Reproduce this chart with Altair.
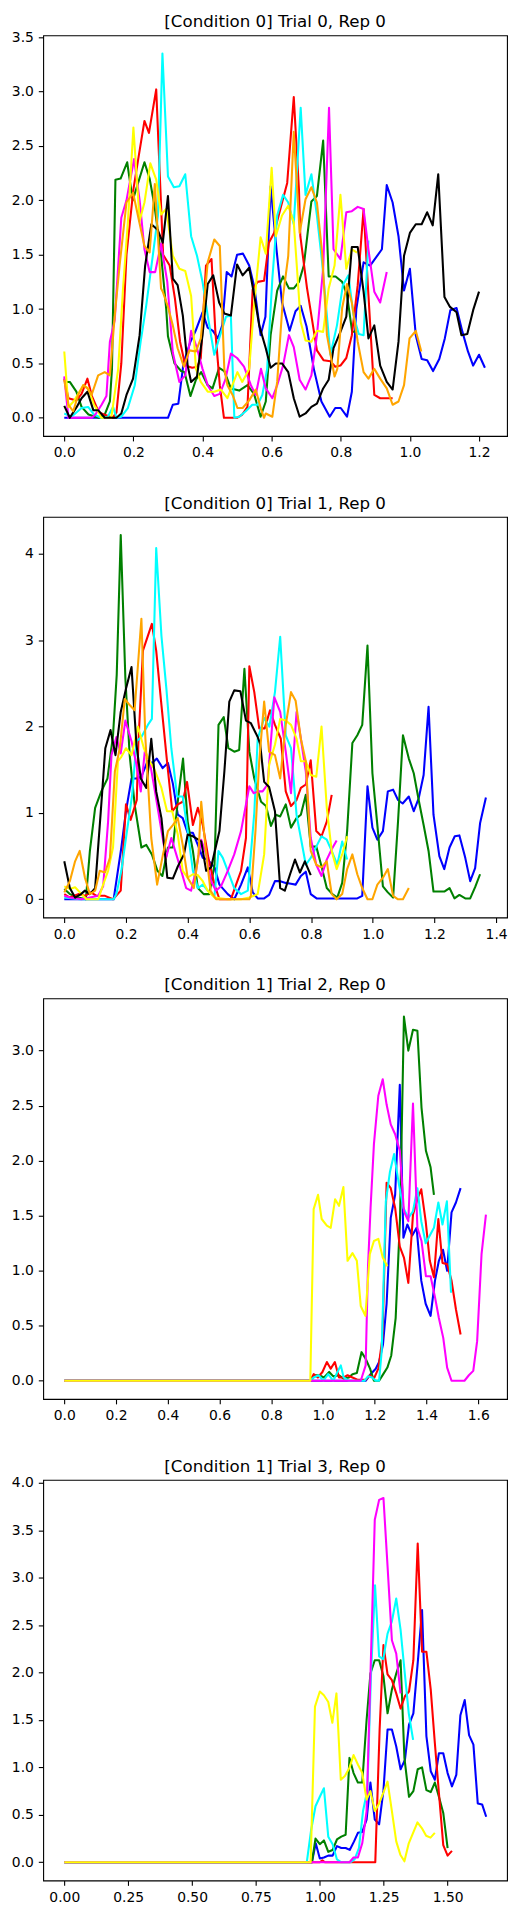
import altair as alt
import pandas as pd

# ---------------- colours (matplotlib named colours) ----------------
COLOR_NAMES = ["blue", "green", "red", "cyan", "magenta", "yellow", "black", "orange"]
COLOR_HEX = ["#0000ff", "#008000", "#ff0000", "#00ffff", "#ff00ff", "#ffff00", "#000000", "#ffa500"]

# ---------------- titles ----------------
TITLES = ["[Condition 0] Trial 0, Rep 0", "[Condition 0] Trial 1, Rep 0",
          "[Condition 1] Trial 2, Rep 0", "[Condition 1] Trial 3, Rep 0"]

# ---------------- tick labels ----------------
P1_XTICKS = [0.0, 0.2, 0.4, 0.6, 0.8, 1.0, 1.2]
P1_YTICKS = [0.0, 0.5, 1.0, 1.5, 2.0, 2.5, 3.0, 3.5]
P2_XTICKS = [0.0, 0.2, 0.4, 0.6, 0.8, 1.0, 1.2, 1.4]
P2_YTICKS = [0, 1, 2, 3, 4]
P3_XTICKS = [0.0, 0.2, 0.4, 0.6, 0.8, 1.0, 1.2, 1.4, 1.6]
P3_YTICKS = [0.0, 0.5, 1.0, 1.5, 2.0, 2.5, 3.0]
P4_XTICKS = [0.0, 0.25, 0.5, 0.75, 1.0, 1.25, 1.5]
P4_YTICKS = [0.0, 0.5, 1.0, 1.5, 2.0, 2.5, 3.0, 3.5, 4.0]

# ---------------- panel 1 : (time, value) ----------------
P1_BLUE = [(0,0),(0.3,0),(0.314,0.12),(0.33,0.13),(0.345,0.5),(0.365,0.7),(0.38,0.8),(0.4,0.97),(0.415,0.83),(0.43,0.8),(0.445,0.73),(0.457,0.85),(0.47,1.34),(0.484,1.3),(0.5,1.5),(0.517,1.51),(0.535,1.4),(0.55,1.2),(0.568,0.76),(0.582,0.93),(0.597,2.13),(0.614,1.55),(0.63,1.06),(0.652,0.8),(0.669,0.98),(0.684,1.03),(0.701,0.84),(0.722,0.45),(0.744,0.15),(0.768,0.01),(0.784,0.09),(0.8,0.09),(0.818,0.01),(0.832,0.24),(0.845,1.0),(0.866,1.43),(0.885,1.4),(0.919,1.55),(0.933,2.14),(0.95,1.98),(0.967,1.67),(0.983,1.17),(1.0,1.37),(1.017,0.76),(1.034,0.54),(1.05,0.53),(1.067,0.43),(1.085,0.54),(1.101,0.73),(1.117,0.99),(1.135,1.01),(1.152,0.79),(1.168,0.61),(1.183,0.48),(1.2,0.58),(1.217,0.46)]
P1_GREEN = [(0,0.33),(0.016,0.33),(0.035,0.24),(0.05,0.1),(0.07,0.03),(0.1,0.0),(0.117,0.03),(0.132,0.15),(0.138,0.45),(0.148,2.19),(0.163,2.2),(0.182,2.35),(0.198,2.0),(0.232,2.35),(0.247,2.2),(0.261,1.95),(0.28,1.5),(0.295,1.0),(0.3,0.75),(0.319,0.5),(0.338,0.43),(0.348,0.42),(0.365,0.2),(0.381,0.35),(0.396,0.42),(0.415,0.3),(0.429,0.27),(0.448,0.46),(0.463,0.43),(0.482,0.27),(0.506,0.25),(0.53,0.3),(0.549,0.22),(0.568,0.01),(0.583,0.15),(0.597,0.76),(0.616,1.17),(0.633,1.3),(0.65,1.19),(0.664,1.19),(0.679,1.25),(0.693,1.4),(0.715,1.99),(0.731,2.04),(0.749,2.55),(0.765,1.3),(0.785,1.3),(0.804,1.25),(0.818,1.13),(0.833,0.79),(0.849,0.8)]
P1_RED = [(0,0.36),(0.012,0.18),(0.035,0.16),(0.05,0.22),(0.067,0.36),(0.08,0.2),(0.1,0.05),(0.14,0.0),(0.151,0.05),(0.165,0.5),(0.18,1.5),(0.2,2.1),(0.215,2.4),(0.232,2.73),(0.245,2.62),(0.266,3.02),(0.286,1.5),(0.305,1.4),(0.32,1.1),(0.335,0.7),(0.35,0.48),(0.37,0.46),(0.385,0.47),(0.395,0.55),(0.41,1.4),(0.426,1.46),(0.437,0.8),(0.45,0.3),(0.462,0.0),(0.5,0.0),(0.515,0.03),(0.53,0.1),(0.545,1.18),(0.559,1.25),(0.578,1.26),(0.592,1.61),(0.607,1.7),(0.626,1.93),(0.645,2.16),(0.664,2.95),(0.679,2.1),(0.683,1.67),(0.702,1.2),(0.731,0.62),(0.75,0.53),(0.77,0.52),(0.784,0.47),(0.799,0.48),(0.816,0.55),(0.832,0.76),(0.849,1.22),(0.866,1.92),(0.88,1.13),(0.897,0.21),(0.914,0.18),(0.933,0.18),(0.95,0.18)]
P1_CYAN = [(0,0.04),(0.021,0.01),(0.05,0.09),(0.069,0.1),(0.086,0.03),(0.107,0.0),(0.126,0.01),(0.141,0.1),(0.151,0.0),(0.165,0.01),(0.184,0.09),(0.204,0.3),(0.221,0.7),(0.237,1.03),(0.256,1.49),(0.271,1.86),(0.284,3.35),(0.3,2.22),(0.317,2.12),(0.333,2.13),(0.35,2.24),(0.367,1.67),(0.384,1.49),(0.4,1.25),(0.415,0.94),(0.434,0.58),(0.448,0.73),(0.468,0.93),(0.482,0.94),(0.492,0.0),(0.506,0.01),(0.525,0.06),(0.544,0.12),(0.559,0.12),(0.573,0.21),(0.587,0.45),(0.602,1.28),(0.616,1.86),(0.633,2.05),(0.648,1.98),(0.664,1.78),(0.684,2.85),(0.698,2.05),(0.715,2.24),(0.731,1.86),(0.746,1.43),(0.77,0.58),(0.789,0.85),(0.806,1.22),(0.822,1.31),(0.837,0.94),(0.852,0.77),(0.866,0.76),(0.88,1.63)]
P1_MAGENTA = [(0,0.38),(0.012,0.0),(0.08,0.0),(0.09,0.03),(0.108,0.12),(0.122,0.2),(0.132,0.7),(0.146,0.9),(0.165,1.84),(0.18,2.0),(0.202,2.38),(0.218,2.0),(0.232,1.55),(0.247,1.34),(0.263,1.34),(0.28,1.6),(0.298,1.25),(0.314,0.6),(0.333,0.33),(0.35,0.39),(0.367,0.8),(0.384,0.64),(0.4,0.45),(0.415,0.3),(0.434,0.2),(0.45,0.22),(0.466,0.35),(0.482,0.59),(0.5,0.55),(0.52,0.47),(0.54,0.3),(0.554,0.21),(0.569,0.45),(0.583,0.27),(0.602,0.18),(0.616,0.3),(0.633,0.48),(0.65,0.76),(0.664,0.65),(0.681,0.35),(0.698,0.26),(0.715,0.39),(0.731,0.76),(0.749,1.37),(0.766,2.85),(0.779,1.55),(0.799,1.46),(0.816,1.89),(0.832,1.9),(0.849,1.94),(0.866,1.92),(0.88,1.55),(0.897,1.16),(0.914,1.06),(0.933,1.34)]
P1_YELLOW = [(0,0.61),(0.012,0.1),(0.027,0.15),(0.055,0.3),(0.069,0.27),(0.086,0.12),(0.1,0.05),(0.107,0.0),(0.136,0.0),(0.156,0.45),(0.17,1.19),(0.184,1.8),(0.2,2.67),(0.218,1.81),(0.232,1.98),(0.249,2.34),(0.266,2.19),(0.28,1.87),(0.295,1.92),(0.314,1.49),(0.333,1.37),(0.35,1.35),(0.367,1.12),(0.381,0.45),(0.395,0.33),(0.415,0.24),(0.434,0.24),(0.453,0.26),(0.472,0.18),(0.49,0.33),(0.501,0.42),(0.515,0.33),(0.535,0.45),(0.549,1.03),(0.568,1.66),(0.583,1.51),(0.6,2.3),(0.612,1.67),(0.63,1.86),(0.648,1.95),(0.664,1.8),(0.684,0.88),(0.698,0.71),(0.715,0.7),(0.731,0.8),(0.749,0.79),(0.765,1.19),(0.782,1.4),(0.799,2.05),(0.816,1.37),(0.832,1.55),(0.847,1.52)]
P1_BLACK = [(0,0.11),(0.016,0.0),(0.036,0.1),(0.05,0.18),(0.067,0.24),(0.084,0.07),(0.098,0.07),(0.117,0.0),(0.151,0.0),(0.165,0.04),(0.18,0.21),(0.199,0.36),(0.218,0.76),(0.234,1.4),(0.252,1.78),(0.27,1.73),(0.285,1.61),(0.3,2.04),(0.314,1.28),(0.328,1.22),(0.343,0.94),(0.357,0.48),(0.367,0.33),(0.384,0.38),(0.4,0.76),(0.415,1.23),(0.431,1.31),(0.448,1.06),(0.463,0.96),(0.482,0.94),(0.5,1.41),(0.516,1.31),(0.535,1.38),(0.55,1.12),(0.564,0.85),(0.583,0.64),(0.597,0.46),(0.612,0.5),(0.63,0.5),(0.648,0.42),(0.664,0.18),(0.681,0.01),(0.698,0.04),(0.715,0.1),(0.731,0.13),(0.749,0.27),(0.765,0.35),(0.779,0.64),(0.799,0.79),(0.816,0.93),(0.832,1.57),(0.849,1.57),(0.866,1.16),(0.88,0.73),(0.897,0.85),(0.914,0.48),(0.933,0.33),(0.95,0.26),(0.967,0.7),(0.983,1.49),(1.0,1.7),(1.017,1.78),(1.034,1.78),(1.05,1.89),(1.066,1.77),(1.082,2.24),(1.1,1.11),(1.116,1.02),(1.135,0.97),(1.149,0.76),(1.166,0.77),(1.183,0.99),(1.2,1.16)]
P1_ORANGE = [(0,0.35),(0.012,0.12),(0.026,0.06),(0.04,0.21),(0.055,0.3),(0.067,0.27),(0.079,0.21),(0.098,0.39),(0.117,0.42),(0.132,0.39),(0.146,0.94),(0.16,1.4),(0.18,1.98),(0.199,2.07),(0.215,1.83),(0.232,1.58),(0.247,1.52),(0.262,2.15),(0.28,1.19),(0.285,1.16),(0.3,1.02),(0.314,0.85),(0.328,0.64),(0.346,0.47),(0.362,0.62),(0.381,0.61),(0.395,0.73),(0.415,1.43),(0.434,1.64),(0.45,1.58),(0.463,0.45),(0.472,0.3),(0.487,0.21),(0.501,0.09),(0.516,0.09),(0.535,0.16),(0.554,0.26),(0.569,0.08),(0.578,0.0),(0.583,0.04),(0.602,0.01),(0.616,0.33),(0.633,1.12),(0.648,1.49),(0.664,2.63),(0.681,1.7),(0.698,2.01),(0.715,2.12),(0.731,1.98),(0.746,1.52),(0.76,0.76),(0.782,0.38),(0.79,0.45),(0.804,1.01),(0.818,1.23),(0.832,1.06),(0.849,0.7),(0.866,0.42),(0.88,0.36),(0.897,0.45),(0.914,0.36),(0.933,0.27),(0.95,0.12),(0.967,0.15),(0.983,0.3),(0.999,0.73),(1.017,0.8),(1.033,0.61)]

# ---------------- panel 2 ----------------
P2_BLUE = [(0,0),(0.16,0),(0.185,0.6),(0.2,1.02),(0.218,1.4),(0.235,1.4),(0.25,1.42),(0.27,1.6),(0.285,1.58),(0.3,1.63),(0.319,1.52),(0.336,1.58),(0.352,1.34),(0.368,0.98),(0.384,0.94),(0.4,0.77),(0.417,0.77),(0.433,0.63),(0.449,0.48),(0.465,0.46),(0.487,0.37),(0.503,0.17),(0.53,0.06),(0.551,0.0),(0.573,0.17),(0.595,0.37),(0.611,0.08),(0.627,0.01),(0.648,0.01),(0.664,0.05),(0.683,0.21),(0.7,0.21),(0.718,0.19),(0.735,0.18),(0.75,0.17),(0.767,0.27),(0.783,0.32),(0.799,0.06),(0.818,0.01),(0.95,0.01),(0.966,0.04),(0.983,1.31),(0.999,0.83),(1.015,0.69),(1.033,0.79),(1.049,1.25),(1.066,1.27),(1.082,1.15),(1.097,1.11),(1.117,1.19),(1.133,1.02),(1.149,1.17),(1.165,1.44),(1.181,2.23),(1.197,0.98),(1.216,0.5),(1.232,0.35),(1.249,0.6),(1.266,0.73),(1.281,0.74),(1.3,0.48),(1.316,0.21),(1.332,0.36),(1.348,0.88),(1.367,1.18)]
P2_GREEN = [(0,0.12),(0.018,0.06),(0.045,0.02),(0.07,0.0),(0.083,0.56),(0.1,1.06),(0.12,1.25),(0.14,1.4),(0.158,1.9),(0.17,2.6),(0.183,4.22),(0.198,2.56),(0.212,1.67),(0.228,1.1),(0.25,0.6),(0.266,0.63),(0.284,0.52),(0.302,0.33),(0.318,0.27),(0.336,0.6),(0.352,0.6),(0.37,1.2),(0.385,1.63),(0.4,0.9),(0.417,0.56),(0.433,0.13),(0.452,0.06),(0.47,0.06),(0.487,0.4),(0.5,2.02),(0.517,2.11),(0.532,1.75),(0.551,1.71),(0.567,1.73),(0.584,2.67),(0.6,1.71),(0.616,1.4),(0.638,1.13),(0.654,1.08),(0.67,0.85),(0.686,0.98),(0.7,0.96),(0.718,1.1),(0.735,0.83),(0.753,0.94),(0.767,0.98),(0.783,1.21),(0.799,0.61),(0.817,0.61),(0.834,0.38),(0.851,0.13),(0.869,0.06),(0.885,0.02),(0.901,0.19),(0.917,0.79),(0.934,1.81),(0.95,1.9),(0.966,2.02),(0.983,2.94),(0.999,1.46),(1.015,0.86),(1.033,0.15),(1.049,0.08),(1.066,0.02),(1.082,0.9),(1.098,1.9),(1.117,1.63),(1.133,1.46),(1.149,1.15),(1.165,0.86),(1.181,0.56),(1.197,0.09),(1.216,0.09),(1.232,0.09),(1.249,0.13),(1.265,0.01),(1.281,0.05),(1.3,0.01),(1.316,0.01),(1.332,0.14),(1.348,0.29)]
P2_RED = [(0,0.06),(0.018,0.02),(0.045,0.06),(0.067,0.04),(0.086,0.08),(0.105,0.04),(0.132,0.04),(0.158,0.0),(0.183,0.1),(0.2,1.1),(0.215,0.92),(0.235,1.15),(0.24,1.79),(0.255,2.88),(0.284,3.19),(0.298,2.88),(0.315,2.25),(0.333,1.6),(0.35,1.02),(0.368,1.1),(0.384,1.13),(0.398,1.36),(0.417,0.86),(0.433,1.06),(0.449,0.86),(0.467,0.48),(0.487,0.17),(0.503,0.0),(0.54,0.0),(0.557,0.17),(0.573,0.33),(0.589,0.71),(0.6,2.7),(0.616,2.4),(0.632,1.98),(0.65,1.98),(0.667,2.19),(0.683,2.02),(0.702,1.86),(0.718,1.25),(0.735,1.08),(0.753,1.15),(0.767,1.29),(0.783,1.33),(0.799,1.61),(0.817,0.79),(0.834,0.73),(0.851,0.9),(0.867,1.21)]
P2_CYAN = [(0,0.02),(0.05,0.0),(0.16,0.0),(0.169,0.06),(0.185,0.33),(0.2,0.71),(0.22,1.21),(0.234,1.83),(0.25,1.88),(0.271,2.02),(0.284,2.09),(0.298,4.07),(0.315,3.05),(0.331,2.44),(0.347,1.75),(0.366,1.19),(0.384,1.19),(0.4,0.79),(0.417,0.33),(0.433,0.13),(0.449,0.17),(0.465,0.1),(0.487,0.04),(0.5,0.56),(0.514,0.48),(0.53,0.33),(0.551,0.13),(0.573,0.06),(0.595,0.1),(0.616,1.0),(0.627,1.86),(0.648,2.1),(0.665,2.0),(0.683,2.4),(0.7,3.04),(0.718,1.9),(0.735,1.75),(0.753,0.98),(0.767,0.71),(0.783,0.4),(0.799,0.48),(0.817,0.61),(0.834,0.73),(0.851,0.69),(0.867,0.56),(0.885,0.4),(0.901,0.67),(0.917,0.46)]
P2_MAGENTA = [(0,0.04),(0.018,0.02),(0.056,0.0),(0.11,0.04),(0.126,0.15),(0.142,0.9),(0.153,1.67),(0.169,1.88),(0.183,1.69),(0.198,2.07),(0.218,1.83),(0.234,1.56),(0.248,1.25),(0.261,1.71),(0.277,1.6),(0.293,1.27),(0.312,0.86),(0.33,0.48),(0.347,0.71),(0.363,0.52),(0.379,0.33),(0.395,0.13),(0.411,0.1),(0.427,0.33),(0.444,0.69),(0.46,0.52),(0.476,0.21),(0.492,0.1),(0.508,0.15),(0.53,0.33),(0.551,0.52),(0.573,0.79),(0.6,1.31),(0.614,1.23),(0.63,1.25),(0.643,1.25),(0.659,1.33),(0.681,2.34),(0.7,2.17),(0.718,1.71),(0.735,1.23),(0.753,2.17),(0.767,1.86),(0.783,1.48),(0.799,0.71),(0.817,0.4),(0.834,0.27),(0.851,0.46),(0.867,0.58),(0.883,0.68)]
P2_YELLOW = [(0,0.15),(0.018,0.12),(0.035,0.14),(0.056,0.06),(0.072,0.0),(0.11,0.0),(0.126,0.17),(0.142,0.33),(0.158,0.6),(0.174,1.6),(0.185,1.65),(0.2,1.75),(0.218,1.67),(0.239,2.0),(0.258,1.75),(0.277,1.6),(0.293,1.5),(0.315,1.29),(0.333,1.02),(0.35,1.02),(0.368,0.75),(0.384,0.33),(0.4,0.25),(0.417,0.29),(0.433,0.28),(0.449,0.21),(0.465,0.1),(0.487,0.02),(0.53,0.0),(0.573,0.0),(0.6,0.02),(0.627,0.06),(0.648,0.52),(0.664,1.56),(0.683,1.79),(0.7,2.09),(0.718,2.07),(0.735,2.02),(0.753,1.86),(0.767,1.6),(0.783,1.6),(0.799,1.44),(0.817,1.42),(0.834,2.0),(0.851,1.06),(0.867,0.56),(0.883,0.35),(0.901,0.52),(0.917,0.73)]
P2_BLACK = [(0,0.44),(0.018,0.13),(0.035,0.02),(0.054,0.06),(0.067,0.1),(0.083,0.06),(0.1,0.13),(0.12,1.1),(0.133,1.75),(0.15,1.96),(0.166,1.67),(0.183,2.17),(0.2,2.44),(0.218,2.69),(0.234,1.79),(0.248,1.4),(0.266,1.29),(0.282,1.86),(0.298,1.25),(0.315,0.94),(0.334,0.25),(0.352,0.24),(0.368,0.38),(0.388,0.52),(0.4,0.75),(0.417,0.73),(0.444,0.67),(0.46,0.33),(0.476,0.37),(0.503,0.79),(0.519,1.48),(0.535,2.29),(0.551,2.42),(0.571,2.41),(0.589,2.07),(0.605,2.04),(0.627,1.88),(0.635,1.8),(0.648,1.36),(0.664,1.3),(0.683,1.02),(0.7,0.13),(0.715,0.1),(0.732,0.29),(0.748,0.46),(0.764,0.31),(0.78,0.44),(0.799,0.28)]
P2_ORANGE = [(0,0.08),(0.018,0.21),(0.035,0.44),(0.05,0.56),(0.067,0.25),(0.083,0.06),(0.1,0.1),(0.115,0.33),(0.132,0.31),(0.148,0.48),(0.164,1.48),(0.18,1.75),(0.196,2.32),(0.212,2.25),(0.228,2.19),(0.25,3.25),(0.263,1.86),(0.282,0.71),(0.301,0.17),(0.32,0.52),(0.336,0.79),(0.352,0.86),(0.368,0.94),(0.384,0.63),(0.4,0.25),(0.42,0.13),(0.435,0.52),(0.444,1.13),(0.457,0.63),(0.474,0.1),(0.492,0.0),(0.6,0.0),(0.605,0.04),(0.62,0.8),(0.632,1.6),(0.648,2.29),(0.664,1.71),(0.683,1.67),(0.7,1.4),(0.718,2.02),(0.735,2.4),(0.75,2.3),(0.767,1.86),(0.783,1.6),(0.799,0.56),(0.817,0.4),(0.834,0.37),(0.851,0.44),(0.867,0.06),(0.883,0.0),(0.901,0.06),(0.917,0.35),(0.934,0.52),(0.95,0.29),(0.966,0.13),(0.983,0.0),(0.999,0.0),(1.015,0.17),(1.033,0.25),(1.049,0.35),(1.066,0.04),(1.082,0.0),(1.098,0.0),(1.117,0.13)]

# ---------------- panel 3 ----------------
P3_BLUE = [(0,0),(1.165,0),(1.184,0.06),(1.204,0.11),(1.217,0.17),(1.232,0.33),(1.246,0.7),(1.262,1.48),(1.279,1.69),(1.297,2.69),(1.311,1.3),(1.326,1.42),(1.345,1.32),(1.362,1.39),(1.38,0.91),(1.397,0.7),(1.416,0.59),(1.433,0.91),(1.448,1.09),(1.464,1.19),(1.48,1.0),(1.497,1.53),(1.514,1.62),(1.532,1.75)]
P3_GREEN = [(0,0),(0.955,0),(0.966,0.05),(0.985,0.05),(1.004,0.03),(1.024,0.08),(1.04,0.04),(1.062,0.05),(1.08,0.02),(1.1,0.03),(1.114,0.06),(1.131,0.07),(1.149,0.26),(1.165,0.2),(1.182,0.11),(1.197,0.0),(1.217,0.0),(1.233,0.06),(1.249,0.12),(1.264,0.23),(1.281,0.57),(1.298,1.48),(1.313,3.31),(1.33,3.0),(1.348,3.19),(1.365,3.18),(1.381,2.48),(1.398,2.09),(1.416,1.94),(1.429,1.69)]
P3_RED = [(0,0),(0.95,0),(0.964,0.06),(0.98,0.03),(0.998,0.08),(1.015,0.17),(1.03,0.11),(1.046,0.17),(1.062,0.03),(1.08,0.03),(1.095,0.05),(1.114,0.03),(1.133,0.01),(1.165,0.01),(1.181,0.05),(1.197,0.02),(1.214,0.11),(1.23,0.39),(1.246,1.8),(1.262,1.75),(1.279,1.57),(1.297,1.22),(1.313,1.12),(1.33,0.89),(1.348,1.51),(1.365,1.65),(1.38,1.74),(1.397,1.45),(1.413,1.09),(1.429,0.94),(1.446,1.47),(1.462,1.07),(1.48,1.06),(1.497,0.91),(1.514,0.65),(1.532,0.42)]
P3_CYAN = [(0,0),(0.95,0),(0.964,0.03),(0.983,0.05),(1.002,0.0),(1.02,0.06),(1.04,0.0),(1.056,0.08),(1.069,0.14),(1.08,0.03),(1.1,0.0),(1.16,0.0),(1.174,0.04),(1.19,0.03),(1.204,0.0),(1.217,0.0),(1.227,0.27),(1.243,1.63),(1.259,1.9),(1.275,2.06),(1.294,1.78),(1.311,1.57),(1.33,1.48),(1.348,1.54),(1.365,1.75),(1.38,1.45),(1.397,1.25),(1.413,1.32),(1.429,1.39),(1.446,1.62),(1.462,1.42),(1.479,1.63),(1.495,0.8)]
P3_MAGENTA = [(0,0),(1.146,0),(1.165,0.14),(1.174,1.03),(1.184,1.57),(1.197,2.15),(1.214,2.59),(1.231,2.74),(1.246,2.51),(1.262,2.33),(1.279,2.24),(1.297,2.09),(1.313,1.54),(1.33,1.45),(1.348,2.52),(1.365,1.39),(1.381,1.27),(1.398,0.95),(1.416,0.95),(1.433,0.76),(1.448,0.57),(1.465,0.39),(1.48,0.12),(1.497,0.0),(1.547,0.0),(1.564,0.05),(1.581,0.09),(1.596,0.36),(1.613,1.15),(1.63,1.51)]
P3_YELLOW = [(0,0),(0.951,0),(0.964,1.56),(0.981,1.69),(0.995,1.47),(1.015,1.41),(1.03,1.39),(1.047,1.65),(1.062,1.59),(1.079,1.76),(1.095,1.09),(1.114,1.16),(1.131,1.09),(1.146,0.68),(1.164,0.59),(1.181,1.15),(1.197,1.27),(1.214,1.29),(1.231,1.12),(1.249,1.04)]

# ---------------- panel 4 ----------------
P4_BLUE = [(0,0),(0.969,0),(0.984,0.2),(1.0,0.04),(1.016,0.05),(1.033,0.07),(1.05,0.07),(1.067,0.17),(1.084,0.15),(1.101,0.15),(1.117,0.13),(1.134,0.22),(1.149,0.31),(1.166,0.32),(1.183,0.45),(1.198,0.84),(1.215,0.45),(1.232,0.4),(1.249,0.76),(1.265,1.4),(1.282,1.4),(1.299,1.22),(1.316,0.98),(1.333,1.08),(1.349,1.45),(1.366,1.57),(1.383,2.1),(1.4,2.66),(1.417,1.33),(1.434,0.96),(1.45,0.87),(1.466,1.15),(1.483,1.15),(1.5,0.94),(1.517,0.8),(1.534,0.92),(1.55,1.55),(1.567,1.71),(1.584,1.34),(1.601,1.24),(1.618,0.62),(1.635,0.61),(1.651,0.48)]
P4_GREEN = [(0,0),(0.969,0),(0.983,0.25),(1.0,0.19),(1.016,0.23),(1.033,0.11),(1.05,0.13),(1.067,0.24),(1.084,0.27),(1.101,0.29),(1.116,1.1),(1.132,0.94),(1.149,0.84),(1.166,0.84),(1.183,1.5),(1.198,1.99),(1.215,2.13),(1.232,2.13),(1.249,1.96),(1.265,1.57),(1.282,1.82),(1.299,1.99),(1.316,2.13),(1.331,1.1),(1.349,0.69),(1.366,0.75),(1.383,0.98),(1.4,1.0),(1.417,0.76),(1.434,0.74),(1.45,0.84),(1.466,0.69),(1.483,0.52),(1.5,0.15)]
P4_RED = [(0,0),(1.0,0),(1.01,0.02),(1.02,0),(1.217,0),(1.234,1.4),(1.249,2.29),(1.265,1.98),(1.282,1.92),(1.299,1.78),(1.316,1.62),(1.333,1.75),(1.349,1.8),(1.366,2.13),(1.383,3.36),(1.4,2.22),(1.417,2.22),(1.434,1.82),(1.45,1.26),(1.466,0.73),(1.483,0.18),(1.5,0.07),(1.517,0.12)]
P4_CYAN = [(0,0),(0.949,0),(0.966,0.34),(0.983,0.59),(1.0,0.69),(1.016,0.78),(1.033,0.27),(1.05,0.19),(1.067,0.03),(1.084,0.0),(1.12,0.0),(1.136,0.03),(1.153,0.15),(1.169,0.54),(1.186,0.76),(1.2,1.96),(1.216,2.92),(1.232,2.17),(1.248,2.14),(1.265,2.41),(1.282,2.54),(1.299,2.78),(1.316,2.45),(1.331,2.03),(1.348,1.57),(1.365,1.29)]
P4_MAGENTA = [(0,0),(1.116,0),(1.132,0.05),(1.149,0.05),(1.166,0.2),(1.183,0.54),(1.198,1.96),(1.215,3.61),(1.232,3.82),(1.249,3.84),(1.265,3.12),(1.282,2.34),(1.299,2.2),(1.316,1.78)]
P4_YELLOW = [(0,0),(0.964,0),(0.981,1.64),(1.0,1.8),(1.016,1.76),(1.033,1.69),(1.049,1.47),(1.065,1.78),(1.082,0.87),(1.098,0.91),(1.115,0.99),(1.132,1.13),(1.149,1.03),(1.166,0.94),(1.183,0.66),(1.198,0.75),(1.215,0.54),(1.232,0.62),(1.248,0.73),(1.265,0.85),(1.282,0.54),(1.299,0.22),(1.315,0.08),(1.331,0.01),(1.348,0.2),(1.365,0.31),(1.382,0.42),(1.399,0.36),(1.416,0.28),(1.433,0.26),(1.45,0.31)]

PANELS = [
    dict(title=TITLES[0], xdom=[-0.061, 1.281], ydom=[-0.1675, 3.5175], xt=P1_XTICKS, yt=P1_YTICKS, xf=".1f", yf=".1f",
         series=[P1_BLUE, P1_GREEN, P1_RED, P1_CYAN, P1_MAGENTA, P1_YELLOW, P1_BLACK, P1_ORANGE]),
    dict(title=TITLES[1], xdom=[-0.0684, 1.4354], ydom=[-0.211, 4.431], xt=P2_XTICKS, yt=P2_YTICKS, xf=".1f", yf="d",
         series=[P2_BLUE, P2_GREEN, P2_RED, P2_CYAN, P2_MAGENTA, P2_YELLOW, P2_BLACK, P2_ORANGE]),
    dict(title=TITLES[2], xdom=[-0.0815, 1.7115], ydom=[-0.1655, 3.4755], xt=P3_XTICKS, yt=P3_YTICKS, xf=".1f", yf=".1f",
         series=[P3_BLUE, P3_GREEN, P3_RED, P3_CYAN, P3_MAGENTA, P3_YELLOW]),
    dict(title=TITLES[3], xdom=[-0.0825, 1.7325], ydom=[-0.192, 4.032], xt=P4_XTICKS, yt=P4_YTICKS, xf=".2f", yf=".1f",
         series=[P4_BLUE, P4_GREEN, P4_RED, P4_CYAN, P4_MAGENTA, P4_YELLOW]),
]

FONT = "DejaVu Sans"
W, H = 465, 401.7


def make_panel(p):
    layers = []
    for i, pts in enumerate(p["series"]):
        df = pd.DataFrame(pts, columns=["x", "y"])
        layers.append(
            alt.Chart(df).mark_line(color=COLOR_HEX[i], strokeWidth=2.08, clip=True, strokeJoin="round").encode(
                x=alt.X("x:Q", scale=alt.Scale(domain=p["xdom"], nice=False, zero=False),
                        axis=alt.Axis(values=p["xt"], format=p["xf"], title=None)),
                y=alt.Y("y:Q", scale=alt.Scale(domain=p["ydom"], nice=False, zero=False),
                        axis=alt.Axis(values=p["yt"], format=p["yf"], title=None)),
            )
        )
    # panel title drawn as a text mark just above the frame (matplotlib-style)
    title_df = pd.DataFrame({"t": [p["title"]]})
    layers.append(
        alt.Chart(title_df).mark_text(font=FONT, fontSize=16.7, color="black", align="center",
                                      baseline="alphabetic").encode(
            text="t:N", x=alt.value(W / 2), y=alt.value(-8.3)
        )
    )
    return alt.layer(*layers).properties(width=W, height=H)


chart = alt.vconcat(*[make_panel(p) for p in PANELS], spacing=80.7, bounds="flush").properties(
    padding={"left": 10.3, "top": 11.0, "right": 8, "bottom": 5},
    background="white",
).configure_view(
    stroke="black", strokeWidth=1.1
).configure_axis(
    domain=False, grid=False, ticks=True, tickColor="black", tickWidth=1.1, tickSize=4.9,
    labelFont=FONT, labelFontSize=13.9, labelColor="black", labelPadding=4.9,
)

chart.save("out.html", embed_options={"renderer": "svg", "actions": False})
